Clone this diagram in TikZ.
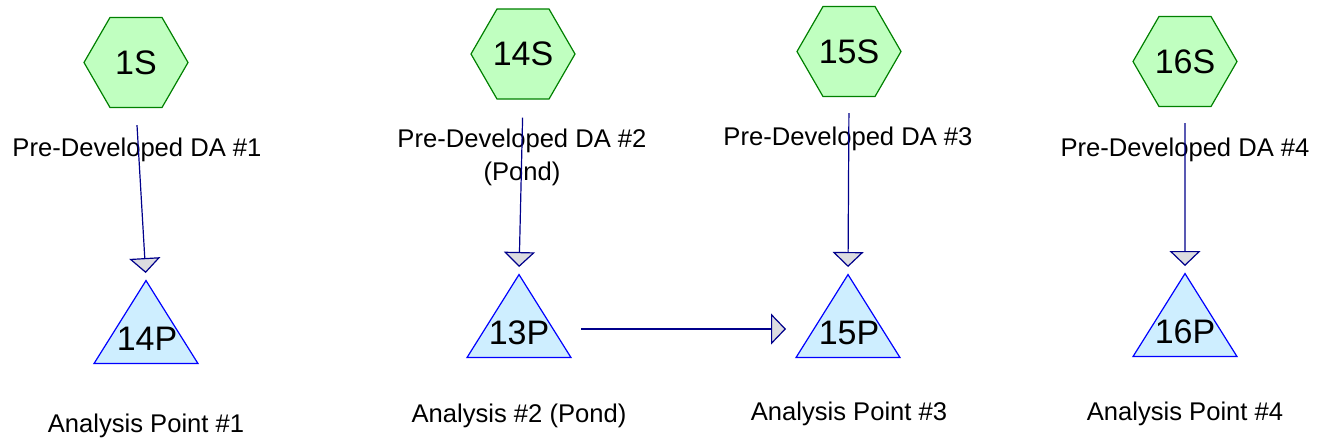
\documentclass[tikz,border=0pt]{standalone}
\usepackage{fontspec}
\setmainfont{Liberation Sans}
\usetikzlibrary{shapes.geometric,arrows.meta,calc}

\definecolor{hexfill}{RGB}{192,255,192}
\definecolor{hexdraw}{RGB}{0,128,0}
\definecolor{trifill}{RGB}{206,238,255}
\definecolor{tridraw}{RGB}{0,0,255}
\definecolor{flowblue}{RGB}{0,0,139}
\definecolor{tipgray}{RGB}{220,220,224}

\begin{document}
\begin{tikzpicture}[x=0.75pt,y=0.75pt,yscale=-1,xscale=1,
	subcat/.style={regular polygon,regular polygon sides=6,minimum size=78pt,inner sep=0pt,draw=hexdraw,fill=hexfill,line width=0.9pt,font=\fontsize{25.5}{28}\selectfont},
	reach/.style={isosceles triangle,isosceles triangle stretches,shape border rotate=90,minimum width=78pt,minimum height=62.25pt,inner sep=0pt,draw=tridraw,fill=trifill,line width=0.9pt},
	reachtext/.style={inner sep=0pt,anchor=base,font=\fontsize{25.5}{28}\selectfont},
	flow/.style={draw=flowblue,line width=0.9pt,-{Triangle[width=23.25pt,length=11.25pt,fill=tipgray]}},
	lbl/.style={inner sep=0.75pt,font=\fontsize{19.2}{24.75}\selectfont,align=center}]
	\useasboundingbox (0,0) rectangle (1327,444);

	%Shape: Hexagon [id:1S]
	\node [subcat] (1S) at (136,62.5) {1S};
	%Shape: Hexagon [id:14S]
	\node [subcat] (14S) at (523,54) {14S};
	%Shape: Hexagon [id:15S]
	\node [subcat] (15S) at (849,51.5) {15S};
	%Shape: Hexagon [id:16S]
	\node [subcat] (16S) at (1185,61.5) {16S};

	%Shape: Triangle [id:14P]
	\node [reach,anchor=apex] (14P) at (146,279) {};
	\node [reachtext] (t14P) at ($(14P.apex)+(1,71)$) {14P};
	%Shape: Triangle [id:13P]
	\node [reach,anchor=apex] (13P) at (519,273) {};
	\node [reachtext] (t13P) at ($(13P.apex)+(0,71)$) {13P};
	%Shape: Triangle [id:15P]
	\node [reach,anchor=apex] (15P) at (848,273) {};
	\node [reachtext] (t15P) at ($(15P.apex)+(1,71)$) {15P};
	%Shape: Triangle [id:16P]
	\node [reach,anchor=apex] (16P) at (1185,272) {};
	\node [reachtext] (t16P) at ($(16P.apex)+(0,71)$) {16P};

	% Text Node
	\draw (137,150) node (lab1S) [lbl] {Pre-Developed DA \#1};
	% Text Node
	\draw (522,157) node (lab14S) [lbl] {Pre-Developed DA \#2\\(Pond)};
	% Text Node
	\draw (848,139) node (lab15S) [lbl] {Pre-Developed DA \#3};
	% Text Node
	\draw (1185,150) node (lab16S) [lbl] {Pre-Developed DA \#4};
	% Text Node
	\draw (146,426) node (lab14P) [lbl] {Analysis Point \#1};
	% Text Node
	\draw (519,416) node (lab13P) [lbl] {Analysis \#2 (Pond)};
	% Text Node
	\draw (849,414) node (lab15P) [lbl] {Analysis Point \#3};
	% Text Node
	\draw (1185,414) node (lab16P) [lbl] {Analysis Point \#4};

	%Straight Lines
	\draw [flow,shorten <=12.75pt,shorten >=4.5pt] (1S.south) -- (14P.apex);
	\draw [flow,shorten <=13.5pt,shorten >=4.5pt] (14S.south) -- (13P.apex);
	\draw [flow,shorten <=12pt,shorten >=4.5pt] (15S.south) -- (15P.apex);
	\draw [flow,shorten <=12pt,shorten >=4.5pt] (16S.south) -- (16P.apex);
	\draw [flow,shorten <=46.5pt,shorten >=46.5pt] ($(13P.apex)+(0,56)$) -- ($(15P.apex)+(0,56)$);

\end{tikzpicture}
\end{document}
